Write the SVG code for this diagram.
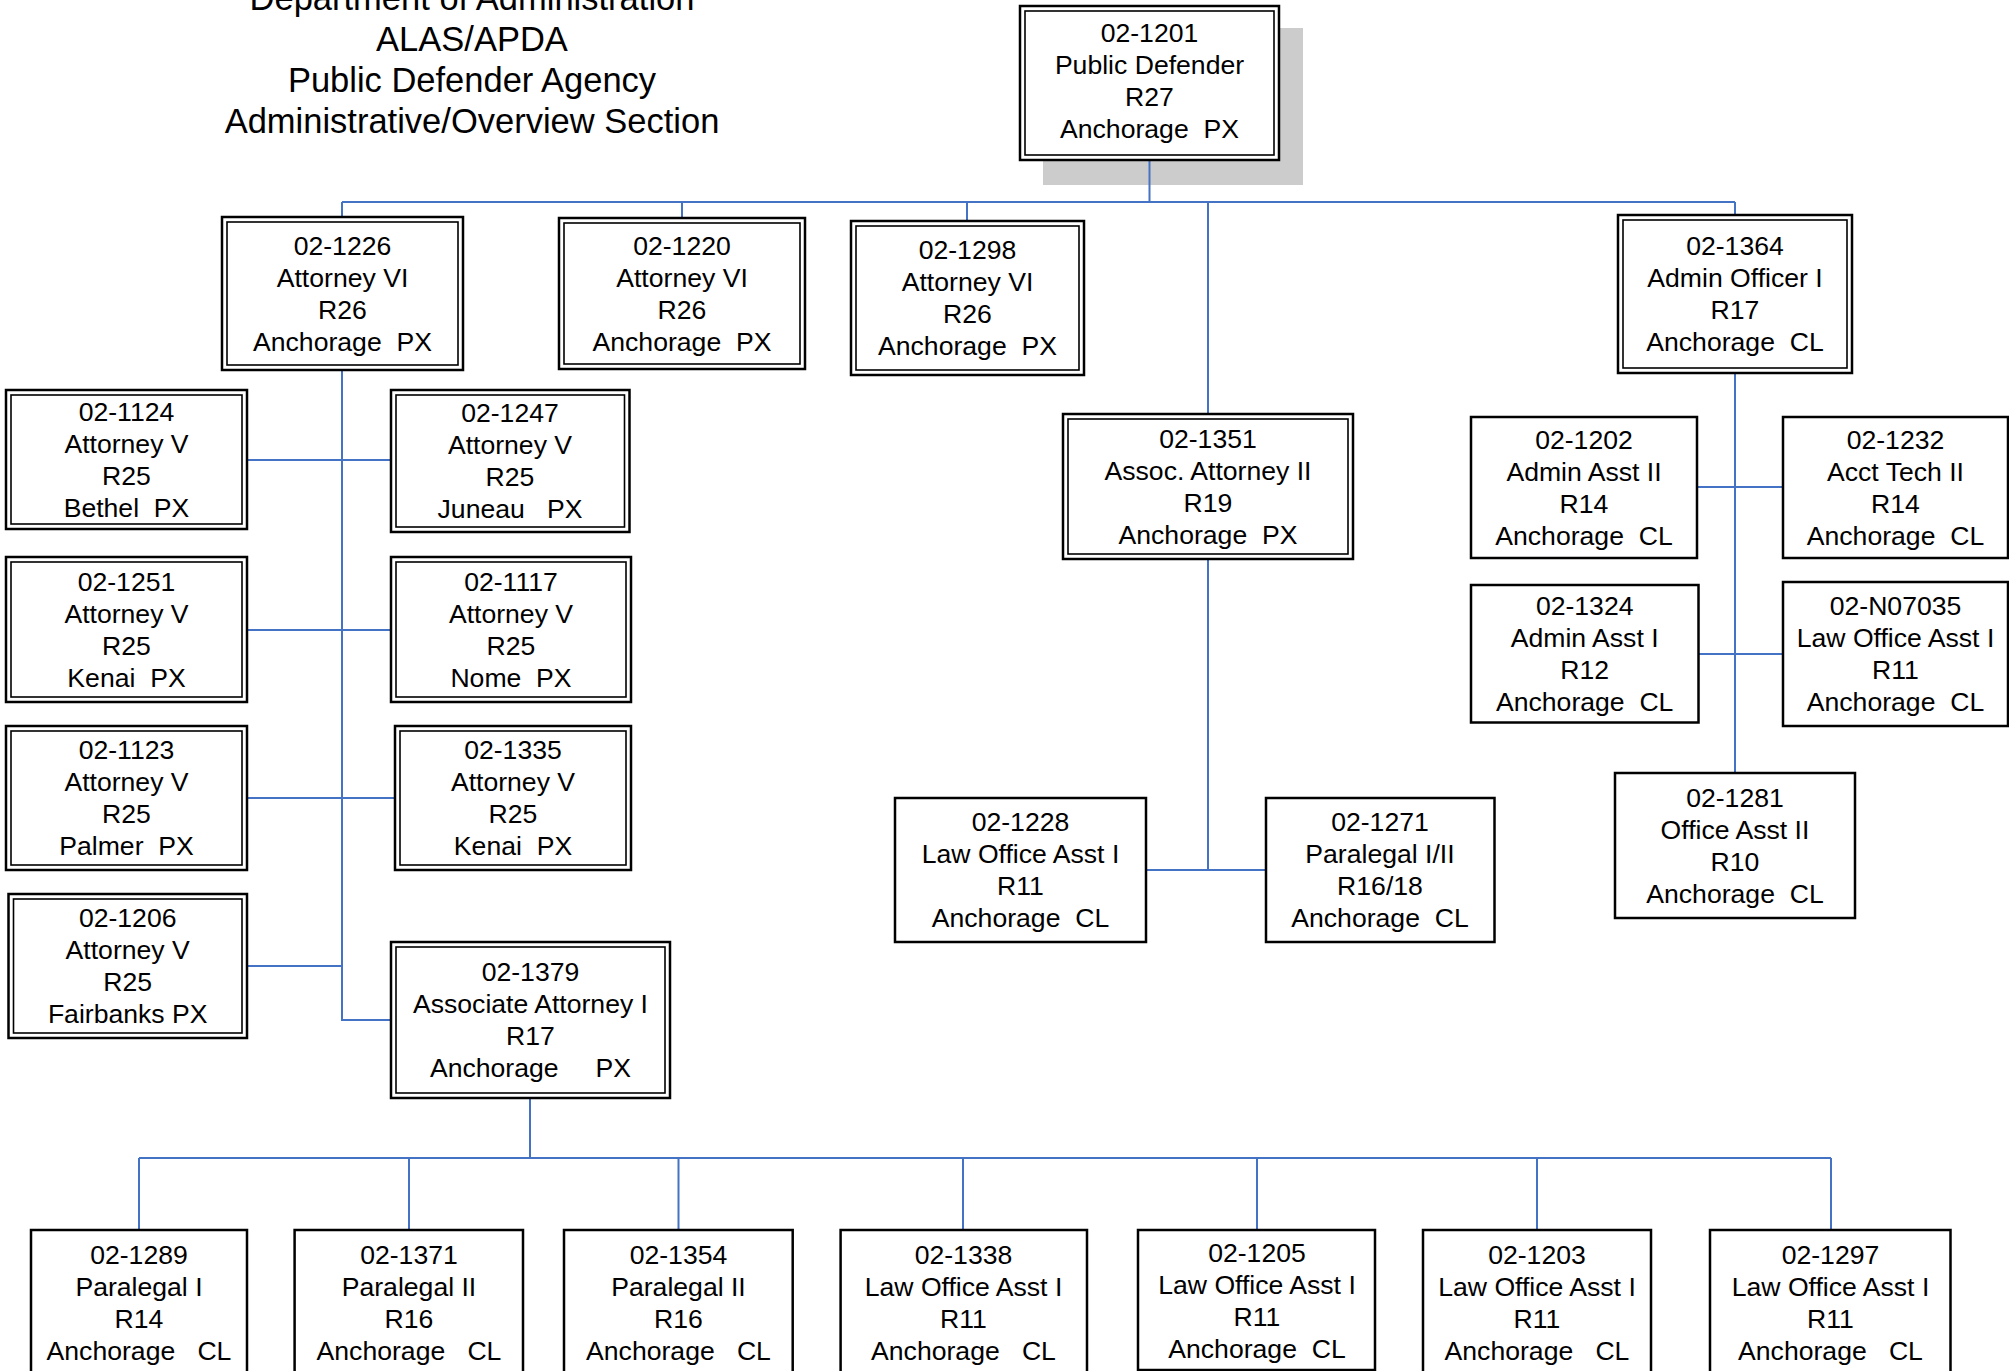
<svg xmlns="http://www.w3.org/2000/svg" width="2009" height="1371" viewBox="0 0 2009 1371">
<style>
text{font-family:"Liberation Sans",Arial,sans-serif;fill:#000;text-anchor:middle;white-space:pre}
.t{font-size:34.5px}
.n text{font-size:26.6px}
.o{fill:#fff;stroke:#000;stroke-width:2.5}
.i{fill:none;stroke:#000;stroke-width:1.6}
.s{fill:#fff;stroke:#000;stroke-width:2.5}
.c path{fill:none;stroke:#4472C4;stroke-width:2}
</style>
<rect width="2009" height="1371" fill="#fff"/>
<g id="title" class="t">
<text x="472" y="10">Department of Administration</text>
<text x="472" y="51">ALAS/APDA</text>
<text x="472" y="92">Public Defender Agency</text>
<text x="472" y="133">Administrative/Overview Section</text>
</g>
<rect id="shadow" x="1043" y="28" width="260" height="157" fill="#cccccc"/>
<g id="connectors" class="c">
<path d="M1149.5 160V202M342 202H1735M342 202V217M682 202V218M967 202V221M1735 202V215M1208 202V414"/>
<path d="M342 370V1020H391M247 460H391M247 630H391M247 798H395M247 966H342"/>
<path d="M1208 559V870M1146 870H1266"/>
<path d="M1735 373V773M1697 487H1783M1698 654H1783"/>
<path d="M530 1098V1158M139 1158H1831M139 1158V1230M409 1158V1230M678.5 1158V1230M963 1158V1230M1257 1158V1230M1537 1158V1230M1831 1158V1230"/>
</g>
<g id="n02-1201" class="n"><rect class="o" x="1020" y="6" width="259" height="154"/><rect class="i" x="1025" y="11" width="249" height="144"/>
<text x="1149.5" y="42">02-1201</text><text x="1149.5" y="74">Public Defender</text><text x="1149.5" y="106">R27</text><text x="1149.5" y="138">Anchorage  PX</text></g>
<g id="n02-1226" class="n"><rect class="o" x="222" y="217" width="241" height="153"/><rect class="i" x="227" y="222" width="231" height="143"/>
<text x="342.5" y="254.5">02-1226</text><text x="342.5" y="286.5">Attorney VI</text><text x="342.5" y="318.5">R26</text><text x="342.5" y="350.5">Anchorage  PX</text></g>
<g id="n02-1220" class="n"><rect class="o" x="559" y="218" width="246" height="151"/><rect class="i" x="564" y="223" width="236" height="141"/>
<text x="682" y="254.5">02-1220</text><text x="682" y="286.5">Attorney VI</text><text x="682" y="318.5">R26</text><text x="682" y="350.5">Anchorage  PX</text></g>
<g id="n02-1298" class="n"><rect class="o" x="851" y="221" width="233" height="154"/><rect class="i" x="856" y="226" width="223" height="144"/>
<text x="967.5" y="259">02-1298</text><text x="967.5" y="291">Attorney VI</text><text x="967.5" y="323">R26</text><text x="967.5" y="355">Anchorage  PX</text></g>
<g id="n02-1364" class="n"><rect class="o" x="1618" y="215" width="234" height="158"/><rect class="i" x="1623" y="220" width="224" height="148"/>
<text x="1735" y="255">02-1364</text><text x="1735" y="287">Admin Officer I</text><text x="1735" y="319">R17</text><text x="1735" y="351">Anchorage  CL</text></g>
<g id="n02-1124" class="n"><rect class="o" x="6" y="390" width="241" height="139"/><rect class="i" x="11" y="395" width="231" height="129"/>
<text x="126.5" y="420.5">02-1124</text><text x="126.5" y="452.5">Attorney V</text><text x="126.5" y="484.5">R25</text><text x="126.5" y="516.5">Bethel  PX</text></g>
<g id="n02-1247" class="n"><rect class="o" x="391" y="390" width="238.5" height="142"/><rect class="i" x="396" y="395" width="228.5" height="132"/>
<text x="510" y="422">02-1247</text><text x="510" y="454">Attorney V</text><text x="510" y="486">R25</text><text x="510" y="518">Juneau   PX</text></g>
<g id="n02-1251" class="n"><rect class="o" x="6" y="557" width="241" height="145"/><rect class="i" x="11" y="562" width="231" height="135"/>
<text x="126.5" y="590.5">02-1251</text><text x="126.5" y="622.5">Attorney V</text><text x="126.5" y="654.5">R25</text><text x="126.5" y="686.5">Kenai  PX</text></g>
<g id="n02-1117" class="n"><rect class="o" x="391" y="557" width="240" height="145"/><rect class="i" x="396" y="562" width="230" height="135"/>
<text x="511" y="590.5">02-1117</text><text x="511" y="622.5">Attorney V</text><text x="511" y="654.5">R25</text><text x="511" y="686.5">Nome  PX</text></g>
<g id="n02-1123" class="n"><rect class="o" x="6" y="726" width="241" height="144"/><rect class="i" x="11" y="731" width="231" height="134"/>
<text x="126.5" y="759">02-1123</text><text x="126.5" y="791">Attorney V</text><text x="126.5" y="823">R25</text><text x="126.5" y="855">Palmer  PX</text></g>
<g id="n02-1335" class="n"><rect class="o" x="395" y="726" width="236" height="144"/><rect class="i" x="400" y="731" width="226" height="134"/>
<text x="513" y="759">02-1335</text><text x="513" y="791">Attorney V</text><text x="513" y="823">R25</text><text x="513" y="855">Kenai  PX</text></g>
<g id="n02-1206" class="n"><rect class="o" x="8.5" y="894" width="238.5" height="144"/><rect class="i" x="13.5" y="899" width="228.5" height="134"/>
<text x="127.7" y="927">02-1206</text><text x="127.7" y="959">Attorney V</text><text x="127.7" y="991">R25</text><text x="127.7" y="1023">Fairbanks PX</text></g>
<g id="n02-1379" class="n"><rect class="o" x="391" y="942" width="279" height="156"/><rect class="i" x="396" y="947" width="269" height="146"/>
<text x="530.5" y="981">02-1379</text><text x="530.5" y="1013">Associate Attorney I</text><text x="530.5" y="1045">R17</text><text x="530.5" y="1077">Anchorage     PX</text></g>
<g id="n02-1351" class="n"><rect class="o" x="1063" y="414" width="290" height="145"/><rect class="i" x="1068" y="419" width="280" height="135"/>
<text x="1208" y="447.5">02-1351</text><text x="1208" y="479.5">Assoc. Attorney II</text><text x="1208" y="511.5">R19</text><text x="1208" y="543.5">Anchorage  PX</text></g>
<g id="n02-1228" class="n"><rect class="s" x="895" y="798" width="251" height="144"/>
<text x="1020.5" y="831">02-1228</text><text x="1020.5" y="863">Law Office Asst I</text><text x="1020.5" y="895">R11</text><text x="1020.5" y="927">Anchorage  CL</text></g>
<g id="n02-1271" class="n"><rect class="s" x="1266" y="798" width="228.5" height="144"/>
<text x="1380" y="831">02-1271</text><text x="1380" y="863">Paralegal I/II</text><text x="1380" y="895">R16/18</text><text x="1380" y="927">Anchorage  CL</text></g>
<g id="n02-1202" class="n"><rect class="s" x="1471" y="417" width="226" height="141"/>
<text x="1584" y="448.5">02-1202</text><text x="1584" y="480.5">Admin Asst II</text><text x="1584" y="512.5">R14</text><text x="1584" y="544.5">Anchorage  CL</text></g>
<g id="n02-1232" class="n"><rect class="s" x="1783" y="417" width="225" height="141"/>
<text x="1895.5" y="448.5">02-1232</text><text x="1895.5" y="480.5">Acct Tech II</text><text x="1895.5" y="512.5">R14</text><text x="1895.5" y="544.5">Anchorage  CL</text></g>
<g id="n02-1324" class="n"><rect class="s" x="1471" y="585" width="227.5" height="137.5"/>
<text x="1584.7" y="614.7">02-1324</text><text x="1584.7" y="646.7">Admin Asst I</text><text x="1584.7" y="678.7">R12</text><text x="1584.7" y="710.7">Anchorage  CL</text></g>
<g id="n02-N07035" class="n"><rect class="s" x="1783" y="582" width="225" height="144"/>
<text x="1895.5" y="615">02-N07035</text><text x="1895.5" y="647">Law Office Asst I</text><text x="1895.5" y="679">R11</text><text x="1895.5" y="711">Anchorage  CL</text></g>
<g id="n02-1281" class="n"><rect class="s" x="1615" y="773" width="240" height="145"/>
<text x="1735" y="806.5">02-1281</text><text x="1735" y="838.5">Office Asst II</text><text x="1735" y="870.5">R10</text><text x="1735" y="902.5">Anchorage  CL</text></g>
<g id="n02-1289" class="n"><rect class="s" x="31" y="1230" width="216" height="160"/>
<text x="139" y="1264">02-1289</text><text x="139" y="1296">Paralegal I</text><text x="139" y="1328">R14</text><text x="139" y="1360">Anchorage   CL</text></g>
<g id="n02-1371" class="n"><rect class="s" x="294.6" y="1230" width="228.4" height="160"/>
<text x="409" y="1264">02-1371</text><text x="409" y="1296">Paralegal II</text><text x="409" y="1328">R16</text><text x="409" y="1360">Anchorage   CL</text></g>
<g id="n02-1354" class="n"><rect class="s" x="564" y="1230" width="228.7" height="160"/>
<text x="678.5" y="1264">02-1354</text><text x="678.5" y="1296">Paralegal II</text><text x="678.5" y="1328">R16</text><text x="678.5" y="1360">Anchorage   CL</text></g>
<g id="n02-1338" class="n"><rect class="s" x="840.6" y="1230" width="246.4" height="160"/>
<text x="963.5" y="1264">02-1338</text><text x="963.5" y="1296">Law Office Asst I</text><text x="963.5" y="1328">R11</text><text x="963.5" y="1360">Anchorage   CL</text></g>
<g id="n02-1205" class="n"><rect class="s" x="1138" y="1230" width="237" height="140"/>
<text x="1257" y="1262">02-1205</text><text x="1257" y="1294">Law Office Asst I</text><text x="1257" y="1326">R11</text><text x="1257" y="1358">Anchorage  CL</text></g>
<g id="n02-1203" class="n"><rect class="s" x="1423" y="1230" width="228" height="160"/>
<text x="1537" y="1264">02-1203</text><text x="1537" y="1296">Law Office Asst I</text><text x="1537" y="1328">R11</text><text x="1537" y="1360">Anchorage   CL</text></g>
<g id="n02-1297" class="n"><rect class="s" x="1710" y="1230" width="240.5" height="160"/>
<text x="1830.5" y="1264">02-1297</text><text x="1830.5" y="1296">Law Office Asst I</text><text x="1830.5" y="1328">R11</text><text x="1830.5" y="1360">Anchorage   CL</text></g>
</svg>
